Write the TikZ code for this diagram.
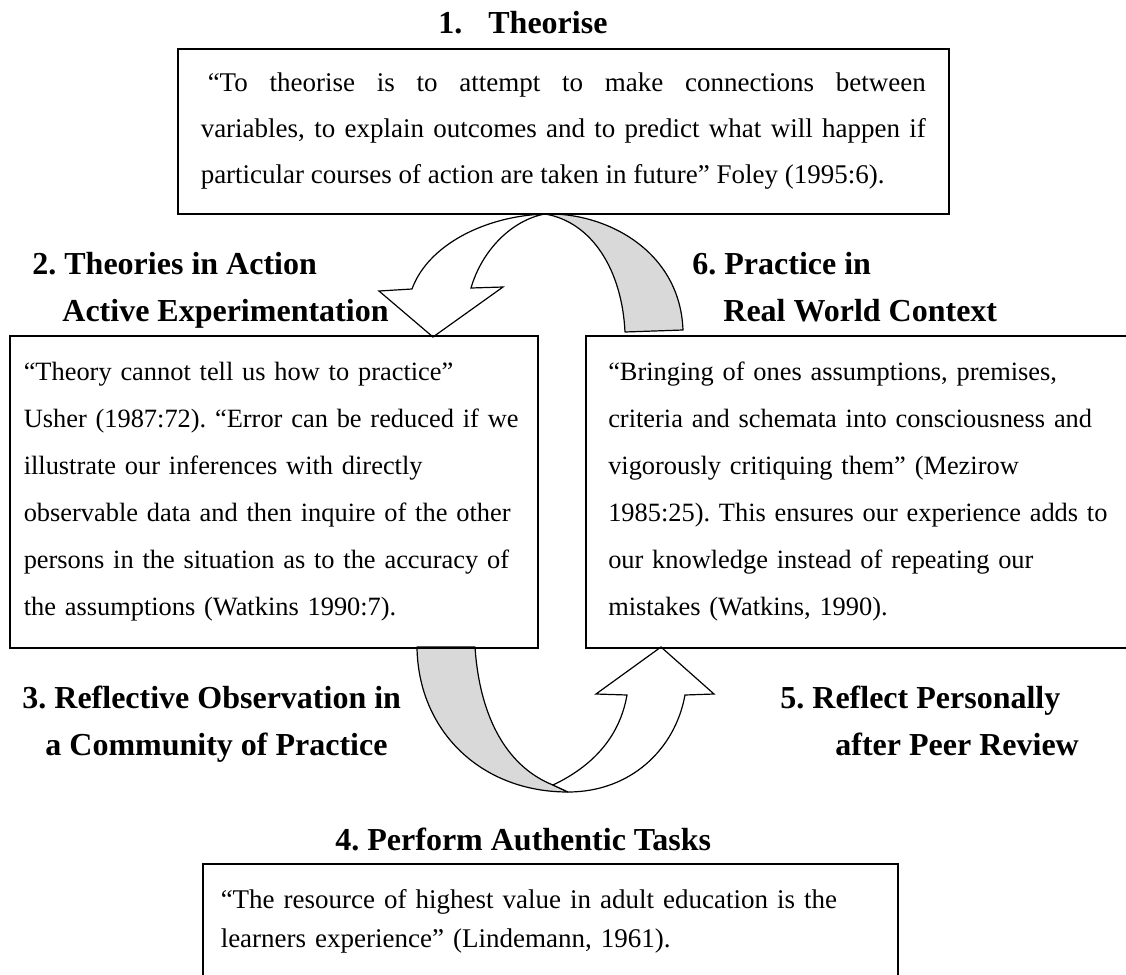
\documentclass[tikz,border=0pt]{standalone}
\usepackage{fontspec}
\setmainfont{Liberation Serif}
\usepackage{xcolor}
\usepackage{tikz}
\definecolor{band}{HTML}{D9D9D9}
\frenchspacing

\begin{document}
\begin{tikzpicture}[
  x=0.5pt, y=-0.5pt,
  quote/.style={draw, line width=0.75pt, anchor=north west, inner xsep=7pt, align=left, font=\fontsize{13.2}{23.5}\selectfont},
  head/.style={anchor=base west, inner sep=0pt, align=left, font=\fontsize{16}{23.5}\selectfont\bfseries},
  back/.style={draw, line width=0.6pt, fill=band, line join=round},
  front/.style={draw, line width=0.6pt, fill=white, line join=miter}
]
\useasboundingbox (0,0) rectangle (1126,975);

% top arrow: 1 -> 2
\draw[back] (545,214) .. controls (605,212) and (680,250) .. (683,330) -- (625,332)
  .. controls (622,270) and (592,222) .. (545,214) -- cycle;
\draw[front] (412,289) .. controls (428,245) and (485,216) .. (545,214)
  .. controls (512,220) and (482,250) .. (471,288) -- (503,287) -- (433,337) -- (379,291) -- cycle;

% bottom arrow: 3 -> 5
\draw[back] (417,647) -- (475,647) .. controls (480,722) and (510,768) .. (553,785) -- (568,792)
  .. controls (480,792) and (418,730) .. (417,647) -- cycle;
\draw[front] (553,785) .. controls (595,765) and (620,735) .. (627,695) -- (596,694) -- (661,647)
  -- (714,694) -- (685,695) .. controls (675,750) and (630,792) .. (568,792) -- cycle;

\node[quote, minimum width=385.5pt, minimum height=82.5pt, text width=362.5pt, align=justify,
  font=\fontsize{13.5}{23}\selectfont] (theorise) at (177,48)
  {\hspace*{3.5pt}“To theorise is to attempt to make connections between\linebreak
   variables, to explain outcomes and to predict what will happen if\linebreak
   particular courses of action are taken in future” Foley (1995:6).};
\node[quote, minimum width=264pt, minimum height=156pt, text width=250pt] (usher) at (9,335)
  {“Theory cannot tell us how to practice”\\
   Usher (1987:72). “Error can be reduced if we\\
   illustrate our inferences with directly\\
   observable data and then inquire of the other\\
   persons in the situation as to the accuracy of\\
   the assumptions (Watkins 1990:7).};
\node[quote, minimum width=280pt, minimum height=156pt, text width=257.5pt] (mezirow) at (585,335)
  {“Bringing of ones assumptions, premises,\\
   criteria and schemata into consciousness and\\
   vigorously critiquing them” (Mezirow\\
   1985:25). This ensures our experience adds to\\
   our knowledge instead of repeating our\\
   mistakes (Watkins, 1990).};
\node[quote, minimum width=347.5pt, minimum height=58pt, text width=329.5pt, inner xsep=9pt,
  font=\fontsize{13.5}{19.5}\selectfont] (lindemann) at (202,863)
  {“The resource of highest value in adult education is the\\
   learners experience” (Lindemann, 1961).};

\node[head] (h1) at (438,33) {1.\hspace{13pt}Theorise};
\node[head] (h2) at (32,321) {2. Theories in Action\\\hspace*{15pt}Active Experimentation};
\node[head] (h6) at (692,321) {6. Practice in\\\hspace*{15.5pt}Real World Context};
\node[head] (h3) at (22,755) {3. Reflective Observation in\\\hspace*{11.5pt}a Community of Practice};
\node[head] (h5) at (780,755) {5. Reflect Personally\\\hspace*{27.5pt}after Peer Review};
\node[head] (h4) at (335,850) {4. Perform Authentic Tasks};
\end{tikzpicture}
\end{document}
